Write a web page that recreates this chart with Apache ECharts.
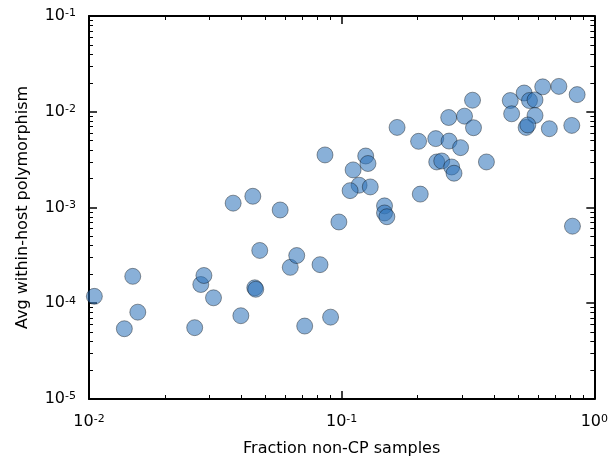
<!DOCTYPE html>
<html>
<head>
<meta charset="utf-8">
<script src="https://cdn.jsdelivr.net/npm/echarts@6/dist/echarts.min.js"></script>
<style>
  html, body { margin: 0; padding: 0; background: #fff; }
  #chart { width: 611px; height: 462px; }
</style>
</head>
<body>
<div id="chart"></div>
<script>
// Fraction of non-CP samples per site vs. average within-host polymorphism
const fractionNonCP = [
  0.0105, 0.0149, 0.0138, 0.0156, 0.0262, 0.0277, 0.0285, 0.0311, 0.0399,
  0.0453, 0.0457, 0.0474, 0.0626, 0.0664, 0.0714, 0.0821, 0.0904, 0.0975,
  0.0372, 0.0445, 0.0571, 0.0859, 0.1245, 0.1271, 0.1110, 0.1172, 0.1080,
  0.1298, 0.1478, 0.1478, 0.1510, 0.1657, 0.2016, 0.2047, 0.2357, 0.2661,
  0.2652, 0.3064, 0.3296, 0.3325, 0.2956, 0.2378, 0.2489, 0.2725, 0.2784,
  0.3741, 0.4648, 0.4707, 0.5275, 0.5538, 0.5825, 0.5825, 0.5372, 0.5455,
  0.6248, 0.7240, 0.8551, 0.6637, 0.8143, 0.8194
];
const avgPolymorphism = [
  1.18e-4, 1.91e-4, 5.42e-5, 8.07e-5, 5.56e-5, 1.57e-4, 1.95e-4, 1.14e-4, 7.41e-5,
  1.45e-4, 1.40e-4, 3.56e-4, 2.37e-4, 3.15e-4, 5.78e-5, 2.53e-4, 7.16e-5, 7.06e-4,
  1.11e-3, 1.31e-3, 9.42e-4, 3.54e-3, 3.45e-3, 2.88e-3, 2.47e-3, 1.71e-3, 1.50e-3,
  1.64e-3, 1.04e-3, 8.77e-4, 8.01e-4, 6.86e-3, 4.91e-3, 1.38e-3, 5.24e-3, 4.94e-3,
  8.71e-3, 8.99e-3, 1.32e-2, 6.81e-3, 4.22e-3, 2.99e-3, 3.06e-3, 2.65e-3, 2.28e-3,
  2.99e-3, 1.31e-2, 9.52e-3, 1.57e-2, 1.31e-2, 1.33e-2, 9.14e-3, 6.86e-3, 7.28e-3,
  1.82e-2, 1.84e-2, 1.51e-2, 6.65e-3, 7.20e-3, 6.38e-4
];

// Decade ticks (labelled) and the 2..9 minor ticks between them
const xMajorTicks = [0.01, 0.1, 1];
const yMajorTicks = [1e-5, 1e-4, 1e-3, 1e-2, 1e-1];
function minorTicks(decades) {
  const out = [];
  decades.slice(0, -1).forEach(d => {
    for (let k = 2; k <= 9; k++) out.push(+(d * k).toPrecision(3));
  });
  return out;
}
const xMinorTicks = minorTicks(xMajorTicks);
const yMinorTicks = minorTicks(yMajorTicks);

const points = fractionNonCP.map((x, i) => [x, avgPolymorphism[i]]);

const FONT = 'DejaVu Sans';
function powLabel(v) {
  const e = Math.round(Math.log10(v));
  return '{b|10}{s|' + (e < 0 ? '-' + (-e) : e) + '}';
}
const labelRich = {
  b: { fontFamily: FONT, fontSize: 16, lineHeight: 16, color: '#000' },
  s: { fontFamily: FONT, fontSize: 11, lineHeight: 11, color: '#000', verticalAlign: 'top' }
};

function frameAxis(extra) {
  return Object.assign({
    type: 'log',
    logBase: 10,
    splitLine: { show: false },
    axisLine: { show: false, lineStyle: { color: '#000', width: 2 } },
    axisTick: { show: true, inside: true, length: 4, lineStyle: { color: '#000', width: 1 } },
    axisLabel: { show: false },
    silent: true
  }, extra);
}

const chart = echarts.init(document.getElementById('chart'), null, { renderer: 'canvas' });
chart.setOption({
  animation: false,
  backgroundColor: '#fff',
  grid: { left: 89, top: 16, width: 509, height: 385, containLabel: false },
  xAxis: [
    frameAxis({
      min: 0.01, max: 1, position: 'bottom',
      axisLine: { show: true, lineStyle: { color: '#000', width: 2 } },
      axisTick: { show: true, inside: true, length: 8, customValues: xMajorTicks, lineStyle: { color: '#000', width: 1.5 } },
      axisLabel: { show: true, margin: 15, customValues: xMajorTicks, formatter: powLabel, rich: labelRich },
      name: 'Fraction non-CP samples',
      nameLocation: 'middle',
      nameGap: 42,
      nameTextStyle: { fontFamily: FONT, fontSize: 16, color: '#000' }
    }),
    frameAxis({ min: 0.01, max: 1, position: 'bottom', axisTick: { show: true, inside: true, length: 4, customValues: xMinorTicks, lineStyle: { color: '#000', width: 1 } } }),
    frameAxis({
      min: 0.01, max: 1, position: 'top',
      axisLine: { show: true, lineStyle: { color: '#000', width: 2 } },
      axisTick: { show: true, inside: true, length: 8, customValues: xMajorTicks, lineStyle: { color: '#000', width: 1.5 } }
    }),
    frameAxis({ min: 0.01, max: 1, position: 'top', axisTick: { show: true, inside: true, length: 4, customValues: xMinorTicks, lineStyle: { color: '#000', width: 1 } } })
  ],
  yAxis: [
    frameAxis({
      min: 1e-5, max: 1e-1, position: 'left',
      axisLine: { show: true, lineStyle: { color: '#000', width: 2 } },
      axisTick: { show: true, inside: true, length: 8, customValues: yMajorTicks, lineStyle: { color: '#000', width: 1.5 } },
      axisLabel: { show: true, margin: 13, customValues: yMajorTicks, formatter: powLabel, rich: labelRich },
      name: 'Avg within-host polymorphism',
      nameLocation: 'middle',
      nameGap: 58,
      nameTextStyle: { fontFamily: FONT, fontSize: 16, color: '#000' }
    }),
    frameAxis({ min: 1e-5, max: 1e-1, position: 'left', axisTick: { show: true, inside: true, length: 4, customValues: yMinorTicks, lineStyle: { color: '#000', width: 1 } } }),
    frameAxis({
      min: 1e-5, max: 1e-1, position: 'right',
      axisLine: { show: true, lineStyle: { color: '#000', width: 2 } },
      axisTick: { show: true, inside: true, length: 8, customValues: yMajorTicks, lineStyle: { color: '#000', width: 1.5 } }
    }),
    frameAxis({ min: 1e-5, max: 1e-1, position: 'right', axisTick: { show: true, inside: true, length: 4, customValues: yMinorTicks, lineStyle: { color: '#000', width: 1 } } })
  ],
  series: [{
    type: 'scatter',
    xAxisIndex: 0,
    yAxisIndex: 0,
    data: points,
    symbol: 'circle',
    symbolSize: 16,
    itemStyle: { color: 'rgba(45,115,185,0.56)', opacity: 1, borderColor: 'rgba(0,0,0,0.38)', borderWidth: 1 },
    emphasis: { disabled: true }
  }]
});
</script>
</body>
</html>
